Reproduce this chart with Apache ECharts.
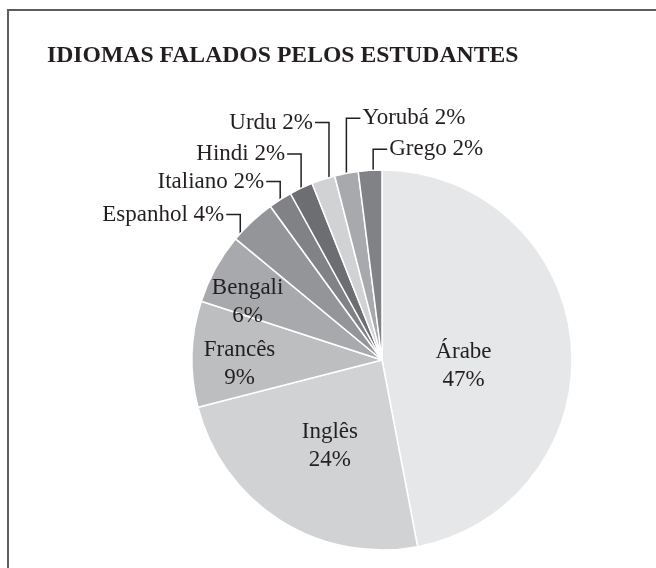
<!DOCTYPE html>
<html>
<head>
<meta charset="utf-8">
<script src="https://cdn.jsdelivr.net/npm/echarts@6/dist/echarts.min.js"></script>
<style>
  html, body { margin: 0; padding: 0; background: #fff; }
  #pie_chart { width: 656px; height: 568px; }
</style>
</head>
<body>
<div id="pie_chart"></div>
<script>
// data, clockwise from 12 o'clock
let idiomas = ['Árabe', 'Inglês', 'Francês', 'Bengali', 'Espanhol', 'Italiano', 'Hindi', 'Urdu', 'Yorubá', 'Grego'];
let percentuais = [47, 24, 9, 6, 4, 2, 2, 2, 2, 2];

// slice fills (style)
let cores = ['#e6e7e8', '#d1d2d4', '#bcbec0', '#a7a9ac', '#939598', '#808285', '#6d6e71', '#d1d2d4', '#a7a9ac', '#808285'];

// label layout: inside labels -> [radius fraction, angle offset]; outside -> [anchor fraction in slice, lift px, side]
let rotulosDentro = { 0: [0.43, 9.6], 1: [0.53, -1.2], 2: [0.75, -3.4], 3: [0.77, -5.5] };
let rotulosFora = { 4: [0.15, 19, -1], 5: [0.5, 18, -1], 6: [0.5, 34, -1], 7: [0.75, 55, -1], 8: [0.5, 55, 1], 9: [0.63, 21, 1] };

let cx = 382, cy = 360, raio = 190;
let fonte = '"Liberation Serif", "Times New Roman", serif';

function pieChart() {
    let chart = echarts.init(document.getElementById('pie_chart'));

    let total = 0;
    for (var i = 0; i < percentuais.length; i++) total += percentuais[i];
    let inicio = [];
    let acc = 0;
    for (var i = 0; i < percentuais.length; i++) {
        inicio.push(acc);
        acc += percentuais[i];
    }

    function ponto(idx, frac, r) {
        let a = (inicio[idx] + frac * percentuais[idx]) / total * 2 * Math.PI;
        return [cx + r * Math.sin(a), cy - r * Math.cos(a)];
    }

    let dados = [];
    for (var i = 0; i < idiomas.length; i++) {
        let dentro = rotulosDentro[i] !== undefined;
        dados.push({
            name: idiomas[i],
            value: percentuais[i],
            itemStyle: { color: cores[i] },
            label: {
                position: dentro ? 'inside' : 'outside',
                formatter: dentro ? '{b}\n{c}%' : '{b} {c}%'
            },
            labelLine: { show: !dentro }
        });
    }

    var option = {
        animation: false,
        title: {
            text: 'IDIOMAS FALADOS PELOS ESTUDANTES',
            left: 47,
            top: 44,
            padding: 0,
            textStyle: {
                fontFamily: fonte,
                fontSize: 23.7,
                fontWeight: 'bold',
                color: '#231f20'
            }
        },
        graphic: [{
            type: 'polyline',
            shape: { points: [[8, 700], [8, 10], [700, 10]] },
            style: { stroke: '#5c5d60', lineWidth: 2, fill: null }
        }],
        series: [{
            type: 'pie',
            center: [cx, cy],
            radius: raio,
            startAngle: 90,
            clockwise: true,
            avoidLabelOverlap: false,
            data: dados,
            itemStyle: {
                borderColor: '#ffffff',
                borderWidth: 1.5
            },
            label: {
                fontFamily: fonte,
                fontSize: 23,
                lineHeight: 28,
                color: '#231f20'
            },
            labelLine: {
                lineStyle: { color: '#231f20', width: 1.5 }
            },
            emphasis: { disabled: true },
            labelLayout: function (params) {
                let i = params.dataIndex;
                if (rotulosDentro[i] !== undefined) {
                    let cfg = rotulosDentro[i];
                    let a = (inicio[i] + percentuais[i] / 2) / total * 360 + cfg[1];
                    let rad = a * Math.PI / 180;
                    return {
                        x: cx + cfg[0] * raio * Math.sin(rad),
                        y: cy - cfg[0] * raio * Math.cos(rad),
                        align: 'center',
                        verticalAlign: 'middle'
                    };
                }
                let cfg = rotulosFora[i];
                let p0 = ponto(i, cfg[0], raio);
                let yl = p0[1] - cfg[1];
                let p2 = [p0[0] + cfg[2] * 14, yl];
                return {
                    x: p2[0] + cfg[2] * 2,
                    y: yl,
                    align: cfg[2] < 0 ? 'right' : 'left',
                    verticalAlign: 'middle',
                    labelLinePoints: [p0, [p0[0], yl], p2]
                };
            }
        }]
    };

    option && chart.setOption(option, true);
}

pieChart();
</script>
</body>
</html>
